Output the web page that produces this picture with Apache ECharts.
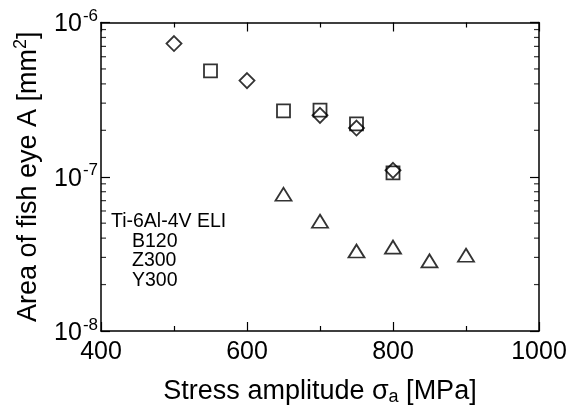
<!DOCTYPE html>
<html>
<head>
<meta charset="utf-8">
<script src="https://cdn.jsdelivr.net/npm/echarts@6/dist/echarts.min.js"></script>
<style>html,body{margin:0;padding:0;background:#fff}#c{width:570px;height:406px}</style>
</head>
<body>
<div id="c"></div>
<script>
// Data
const b120X = [500, 600, 700, 750, 800];           // diamonds
const b120Y = [7.3e-7, 4.2e-7, 2.5e-7, 2.07e-7, 1.1e-7];
const z300X = [550, 650, 700, 750, 800];           // squares
const z300Y = [4.85e-7, 2.67e-7, 2.7e-7, 2.2e-7, 1.06e-7];
const y300X = [650, 700, 750, 800, 850, 900];      // triangles
const y300Y = [7.7e-8, 5.15e-8, 3.3e-8, 3.5e-8, 2.85e-8, 3.1e-8];
const xTicks = [400, 600, 800, 1000];
const yDecades = [-8, -7, -6];
const legendLines = ['Ti-6Al-4V ELI', 'B120', 'Z300', 'Y300'];

const FONT = 'Liberation Sans';
const zip = (xs, ys) => xs.map((x, i) => [x, ys[i]]);

// minor log ticks 2..9 in each decade
const minorVals = [];
yDecades.slice(0, -1).forEach(e => { for (let k = 2; k <= 9; k++) minorVals.push(k * Math.pow(10, e)); });

const hollow = { color: 'rgba(0,0,0,0)', borderColor: '#000', borderWidth: 1.8 };

const yLabel = v => {
  const e = Math.round(Math.log10(v));
  return '{b|10}{s|' + e + '}';
};

const chart = echarts.init(document.getElementById('c'), null, { renderer: 'canvas' });
const axisLine = { lineStyle: { color: '#000', width: 1.5 } };
chart.setOption({
  animation: false,
  backgroundColor: '#fff',
  textStyle: { fontFamily: FONT },
  grid: { left: 101, right: 31, top: 22.5, bottom: 75, containLabel: false, outerBoundsMode: 'none' },
  xAxis: [{
    type: 'value', min: xTicks[0], max: xTicks[xTicks.length - 1], interval: 200,
    axisLine: axisLine, splitLine: { show: false },
    axisTick: { inside: true, length: 9, lineStyle: { color: '#000', width: 1.2 } },
    minorTick: { show: true, splitNumber: 2, length: 5, lineStyle: { color: '#000', width: 1.2 } },
    axisLabel: { color: '#000', fontSize: 25, fontFamily: FONT, margin: 9, formatter: v => String(v) },
    name: '{t|Stress amplitude }{t|σ}{sub|a}{t| [MPa]}',
    nameLocation: 'middle', nameGap: 47,
    nameTextStyle: { rich: { t: { fontSize: 27, fontFamily: FONT, color: '#000' }, sub: { fontSize: 18, fontFamily: FONT, color: '#000', padding: [10, 0, 0, 0] } } }
  }, {
    type: 'value', position: 'top', min: xTicks[0], max: xTicks[xTicks.length - 1], interval: 200,
    axisLine: axisLine, splitLine: { show: false },
    axisTick: { inside: true, length: 9, lineStyle: { color: '#000', width: 1.2 } },
    minorTick: { show: true, splitNumber: 2, length: 5, lineStyle: { color: '#000', width: 1.2 } },
    axisLabel: { show: false }
  }],
  yAxis: [{
    type: 'log', logBase: 10, min: Math.pow(10, yDecades[0]), max: Math.pow(10, yDecades[yDecades.length - 1]),
    axisLine: axisLine, splitLine: { show: false },
    axisTick: { inside: true, length: 9, lineStyle: { color: '#000', width: 1.2 } },
    minorTick: { show: false },
    axisLabel: {
      formatter: yLabel, margin: 3,
      rich: {
        b: { fontSize: 25, fontFamily: FONT, color: '#000', verticalAlign: 'bottom' },
        s: { fontSize: 17, fontFamily: FONT, color: '#000', verticalAlign: 'bottom', padding: [0, 0, 12, 1] }
      }
    },
    name: '{t|Area of fish eye A [mm}{s|2}{t|]}',
    nameLocation: 'middle', nameGap: 59, nameRotate: 90,
    nameTextStyle: { rich: {
      t: { fontSize: 27, fontFamily: FONT, color: '#000', verticalAlign: 'bottom' },
      s: { fontSize: 18, fontFamily: FONT, color: '#000', verticalAlign: 'bottom', padding: [0, 0, 12, 0] }
    } }
  }, {
    type: 'log', logBase: 10, position: 'right', min: Math.pow(10, yDecades[0]), max: Math.pow(10, yDecades[yDecades.length - 1]),
    axisLine: axisLine, splitLine: { show: false },
    axisTick: { inside: true, length: 9, lineStyle: { color: '#000', width: 1.2 } },
    axisLabel: { show: false }
  }],
  series: [
    { type: 'scatter', name: 'B120', data: zip(b120X, b120Y), symbol: 'diamond', symbolSize: 15, itemStyle: hollow, silent: true },
    { type: 'scatter', name: 'Z300', data: zip(z300X, z300Y), symbol: 'rect', symbolSize: 13, itemStyle: hollow, silent: true },
    { type: 'scatter', name: 'Y300', data: zip(y300X, y300Y), symbol: 'triangle', symbolSize: [16, 13], itemStyle: hollow, silent: true },
    { type: 'scatter', name: 'minorL', data: minorVals.map(v => [xTicks[0], v]), symbol: 'rect', symbolSize: [5, 1.2], symbolOffset: [2.5, 0], itemStyle: { color: '#000' }, silent: true, z: 1 },
    { type: 'scatter', name: 'minorR', data: minorVals.map(v => [xTicks[xTicks.length - 1], v]), symbol: 'rect', symbolSize: [5, 1.2], symbolOffset: [-2.5, 0], itemStyle: { color: '#000' }, silent: true, z: 1 }
  ],
  graphic: legendLines.map((t, i) => ({
    type: 'text', left: i === 0 ? 111 : 132, top: 212 + i * 19.5,
    style: { text: t, fontSize: 19.5, fontFamily: FONT, fill: '#000' }
  }))
});
</script>
</body>
</html>
